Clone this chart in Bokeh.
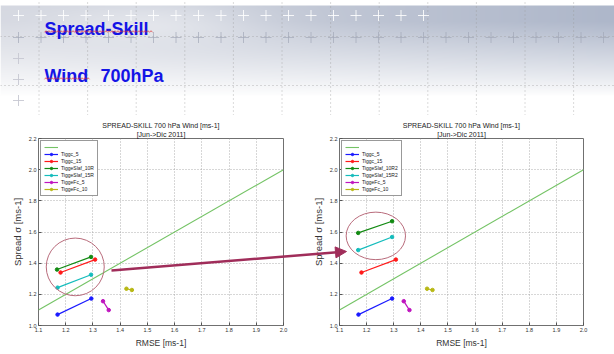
import numpy as np
from bokeh.plotting import figure
from bokeh.layouts import column, row
from bokeh.models import (Range1d, FixedTicker, Legend, LegendItem, Arrow, NormalHead,
                          Title, PrintfTickFormatter)
from bokeh.core.properties import value
from bokeh.embed import file_html
from bokeh.resources import INLINE

# ---------------- data ----------------
x_ticks = [1.1, 1.2, 1.3, 1.4, 1.5, 1.6, 1.7, 1.8, 1.9, 2.0]
y_ticks = [1.0, 1.2, 1.4, 1.6, 1.8, 2.0, 2.2]

diag_x = [1.1, 2.0]
diag_y = [1.1, 2.0]

tiggc_5_x = [1.170, 1.294]
tiggc_5_y = [1.070, 1.173]
tiggc_15_x = [1.181, 1.308]
tiggc_15_y = [1.340, 1.423]
slaf10_left_x = [1.168, 1.293]
slaf10_left_y = [1.359, 1.440]
slaf15_left_x = [1.170, 1.293]
slaf15_left_y = [1.243, 1.326]
slaf10_right_x = [1.169, 1.294]
slaf10_right_y = [1.594, 1.669]
slaf15_right_x = [1.169, 1.294]
slaf15_right_y = [1.484, 1.568]
fc5_x = [1.337, 1.358]
fc5_y = [1.156, 1.099]
fc10_x = [1.423, 1.443]
fc10_y = [1.236, 1.228]

left_labels = ["Tiggc_5", "Tiggc_15", "TiggeSlaf_10R", "TiggeSlaf_15R", "TiggeFc_5", "TiggeFc_10"]
right_labels = ["Tiggc_5", "Tiggc_15", "TiggeSlaf_10R2", "TiggeSlaf_15R2", "TiggeFc_5", "TiggeFc_10"]
series_colors = ["#1a1aff", "#ff1a1a", "#128a12", "#14bcbc", "#bf14bf", "#b8b814"]

# highlight ellipses (centre x, centre y, width, height) in data units
left_ellipse = (1.235, 1.376, 0.213, 0.370)
right_ellipse = (1.234, 1.575, 0.219, 0.305)

FONT = "Liberation Sans"
ARROW_C = "#a02d5a"
ELL_C = "#b86b7b"
PAGE_W, PAGE_H = 614, 354


def make_chart(series, labels, ellipse, geom):
    w, h, bl, br, bt, bb = geom
    p = figure(width=w, height=h,
               min_border_left=bl, min_border_right=br,
               min_border_top=bt, min_border_bottom=bb,
               x_range=Range1d(1.1, 2.0), y_range=Range1d(1.0, 2.2),
               output_backend="svg", toolbar_location=None,
               background_fill_color="white", border_fill_color="white")
    t2 = Title(text="[Jun->Dic 2011]", align="center", text_font=FONT,
               text_font_size="7px", text_font_style="normal", text_color="#222222",
               standoff=1)
    t1 = Title(text="SPREAD-SKILL 700 hPa Wind [ms-1]", align="center", text_font=FONT,
               text_font_size="7px", text_font_style="normal", text_color="#222222",
               standoff=0)
    p.add_layout(t2, "above")
    p.add_layout(t1, "above")

    p.xaxis.ticker = FixedTicker(ticks=x_ticks)
    p.yaxis.ticker = FixedTicker(ticks=y_ticks)
    p.xaxis.formatter = PrintfTickFormatter(format="%.1f")
    p.yaxis.formatter = PrintfTickFormatter(format="%.1f")
    p.xaxis.axis_label = "RMSE [ms-1]"
    p.yaxis.axis_label = "Spread \u03c3 [ms-1]"
    for ax in (p.xaxis[0], p.yaxis[0]):
        ax.major_label_text_font = FONT
        ax.major_label_text_font_size = "5.5px"
        ax.major_label_text_color = "#333333"
        ax.major_tick_in = 3
        ax.major_tick_out = 0
        ax.major_tick_line_color = "#555555"
        ax.minor_tick_line_color = None
        ax.axis_line_color = None
        ax.major_label_standoff = 2
        ax.axis_label_text_font = FONT
        ax.axis_label_text_font_style = "normal"
        ax.axis_label_text_color = "#333333"
        ax.axis_label_standoff = 3
    p.xaxis.axis_label_text_font_size = "8.5px"
    p.yaxis.axis_label_text_font_size = "9.5px"

    p.grid.grid_line_color = "#9a9a9a"
    p.grid.grid_line_dash = "1 2"
    p.grid.grid_line_width = 0.8
    p.outline_line_color = "#707070"
    p.outline_line_width = 1

    items = []
    d = p.line(diag_x, diag_y, line_color="#74c365", line_width=1.1)
    items.append(LegendItem(label=" ", renderers=[d]))
    for (sx, sy), lab, col in zip(series, labels, series_colors):
        l = p.line(sx, sy, line_color=col, line_width=1.2)
        s = p.scatter(sx, sy, marker="circle", size=3.5, fill_color=col, line_color=col)
        items.append(LegendItem(label=lab, renderers=[l, s]))

    cx, cy, ew, eh = ellipse
    p.ellipse(x=[cx], y=[cy], width=[ew], height=[eh], fill_color=None,
              line_color=ELL_C, line_width=1)

    leg = Legend(items=items, location="top_left", margin=2, padding=3, spacing=1,
                 label_text_font=FONT, label_text_font_size="5px", label_text_color="#222222",
                 label_height=6, glyph_height=6, glyph_width=14, label_standoff=3,
                 border_line_color="#333333", border_line_width=1,
                 background_fill_color="white", background_fill_alpha=1)
    p.add_layout(leg)
    return p


left_series = [(tiggc_5_x, tiggc_5_y), (tiggc_15_x, tiggc_15_y),
               (slaf10_left_x, slaf10_left_y), (slaf15_left_x, slaf15_left_y),
               (fc5_x, fc5_y), (fc10_x, fc10_y)]
right_series = [(tiggc_5_x, tiggc_5_y), (tiggc_15_x, tiggc_15_y),
                (slaf10_right_x, slaf10_right_y), (slaf15_right_x, slaf15_right_y),
                (fc5_x, fc5_y), (fc10_x, fc10_y)]

left = make_chart(left_series, left_labels, left_ellipse, (300, 239, 38, 17, 21, 29))
right = make_chart(right_series, right_labels, right_ellipse, (314, 239, 39, 31, 23, 26))

# ---------------- slide header ----------------
HW, HH = 614, 115
hdr = figure(width=HW, height=HH, x_range=Range1d(0, HW), y_range=Range1d(0, HH),
             output_backend="svg", toolbar_location=None, min_border=0,
             x_axis_location=None, y_axis_location=None)
hdr.grid.visible = False
hdr.outline_line_color = None

yy, xx = np.mgrid[0:HH, 0:HW].astype(float)
tt = np.clip((95 - yy) / 75.0, 0, 1) ** 0.9
tt[yy < 5] = 0
light = np.exp(-((xx - 150) / 110.0) ** 2 - ((yy - 22) / 22.0) ** 2)
tt = tt * (1 - 0.45 * light)
cr = 212 - 38 * xx / HW
cg = 215 - 32 * xx / HW
cb = 224 - 22 * xx / HW
rr = (255 * (1 - tt) + cr * tt).astype(np.uint32)
gg = (255 * (1 - tt) + cg * tt).astype(np.uint32)
bb = (255 * (1 - tt) + cb * tt).astype(np.uint32)
rgba = (255 << 24) | (bb << 16) | (gg << 8) | rr
img = np.flipud(rgba).astype(np.uint32)
hdr.image_rgba(image=[img], x=0, y=0, dw=HW, dh=HH)

# dotted slide guides
vx = [38.5 + 48.6 * k for k in range(12)]
hdr.multi_line(xs=[[v, v] for v in vx], ys=[[0, HH] for _ in vx],
               line_color="#9a9a9a", line_dash="1 3", line_alpha=0.7, line_width=1)
hdr.multi_line(xs=[[0, HW], [0, HW]], ys=[[HH - 36, HH - 36], [HH - 85, HH - 85]],
               line_color="#9a9a9a", line_dash="1 3", line_alpha=0.7, line_width=1)

# cross marks
row1 = [18 + 22.5 * k for k in range(19)]
row2 = [18 + 22.5 * k for k in range(27)]
hdr.scatter(row1, [HH - 15] * len(row1), marker="cross", size=11,
            line_color="white", line_alpha=0.85, line_width=1)
hdr.scatter(row2, [HH - 37] * len(row2), marker="cross", size=11,
            line_color="#a3a8b8", line_alpha=0.7, line_width=1)
hdr.scatter([18, 18, 18], [HH - 58, HH - 79, HH - 100], marker="cross", size=11,
            line_color="#c6c8d2", line_alpha=0.9, line_width=1)

hdr.text(x=[44, 44, 100], y=[HH - 28, HH - 75, HH - 75],
         text=["Spread-Skill", "Wind", "700hPa"],
         text_font=value(FONT), text_font_size="18px", text_font_style="bold",
         text_color="#1414e6", text_baseline="alphabetic")

# spell-check squiggles
for x0, x1, yb in [(44, 153, 31), (44, 90, 78)]:
    zx = list(np.arange(x0, x1, 1.5))
    zy = [HH - yb + (0.8 if i % 2 else -0.8) for i in range(len(zx))]
    hdr.line(zx, zy, line_color="#e03030", line_width=0.8, line_alpha=0.9)

# ---------------- transparent overlay carrying the connecting arrow ----------------
ovl = figure(width=PAGE_W, height=PAGE_H, x_range=Range1d(0, PAGE_W), y_range=Range1d(0, PAGE_H),
             output_backend="svg", toolbar_location=None, min_border=0,
             x_axis_location=None, y_axis_location=None,
             background_fill_color=None, border_fill_color=None,
             styles={"position": "absolute", "left": "0px", "top": "0px",
                     "pointer-events": "none"})
ovl.grid.visible = False
ovl.outline_line_color = None
arrow_start = (111, PAGE_H - 270)
arrow_end = (346, PAGE_H - 251)
ovl.add_layout(Arrow(x_start=arrow_start[0], y_start=arrow_start[1],
                     x_end=arrow_end[0], y_end=arrow_end[1],
                     end=NormalHead(size=11, fill_color=ARROW_C, line_color=ARROW_C),
                     line_color=ARROW_C, line_width=2.5))

layout = column(hdr, row(left, right, spacing=0), ovl, spacing=0)
open("out.html", "w").write(file_html(layout, INLINE))
